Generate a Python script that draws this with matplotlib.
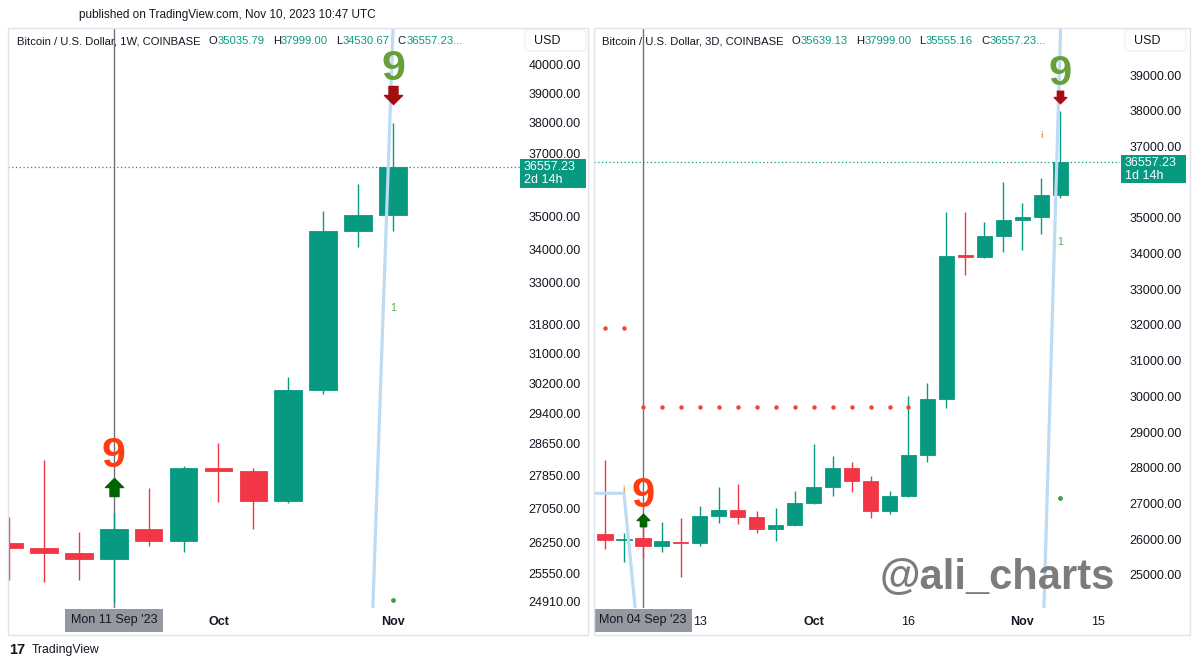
import matplotlib
matplotlib.use('Agg')
import matplotlib.pyplot as plt
import numpy as np
from matplotlib.path import Path
from matplotlib.patches import Rectangle, FancyBboxPatch
from matplotlib.transforms import blended_transform_factory
from matplotlib.ticker import NullLocator, NullFormatter

plt.rcParams['font.family'] = ['Liberation Sans', 'DejaVu Sans']

# ---------------- data ----------------
# Weekly (1W) candles, Aug 21 2023 .. Nov 6 2023
w_open  = [26238, 26128, 26006, 25861, 26563, 26281, 28029, 27963, 27220, 30024, 34548, 35035.79]
w_high  = [26845, 28229, 26494, 26939, 27540, 28079, 28654, 28029, 30380, 35168, 36007, 37999.00]
w_low   = [25392, 25349, 25392, 24901, 26167, 26030, 27202, 26563, 27178, 29919, 34052, 34530.67]
w_close = [26119, 26000, 25868, 26563, 26281, 28029, 27955, 27218, 30024, 34548, 35036, 36557.23]
w_ticks = [40000, 39000, 38000, 37000, 35000, 34000, 33000, 31800, 31000, 30200,
           29400, 28650, 27850, 27050, 26250, 25550, 24910]
w_xtick_pos = [6, 11]
w_xtick_lab = ['Oct', 'Nov']

# 3-day (3D) candles, Aug 29 2023 .. Nov 9 2023
d_open  = [26143, 25975, 26031, 25807, 25927, 25891, 26647, 26815, 26611, 26291, 26395, 27003, 27468,
           27983, 27636, 26787, 27216, 28356, 29925, 33950, 33900, 34490, 34938, 35036, 35639.13]
d_high  = [28216, 26179, 26339, 26479, 26599, 26927, 27468, 27543, 26787, 26863, 27356, 28655, 28328,
           28151, 27776, 27347, 30008, 30373, 35156, 35156, 34872, 35997, 35407, 36128, 37999.00]
d_low   = [25723, 25367, 25471, 25639, 24947, 25815, 26443, 26415, 26179, 25950, 26375, 26983, 27216,
           27319, 26583, 26703, 27188, 28156, 29685, 33409, 33867, 34053, 34097, 34544, 35555.16]
d_close = [25975, 26011, 25807, 25947, 25891, 26647, 26815, 26611, 26291, 26395, 27003, 27468, 27983,
           27636, 26787, 27216, 28356, 29925, 33922, 33900, 34490, 34938, 35025, 35636, 36557.23]
d_ticks = [39000, 38000, 37000, 35000, 34000, 33000, 32000, 31000, 30000,
           29000, 28000, 27000, 26000, 25000]
d_xtick_pos = [5, 11, 16, 22, 26]
d_xtick_lab = ['13', 'Oct', '16', 'Nov', '15']

last_close = 36557.23

# indicator marks (index, price)
w_red9 = (3, 28057); w_up_arrow = (3, 27563)
w_green9 = (11, 39464); w_down_arrow = (11, 38948)
w_one = (11, 32281); w_dot = (11, 24951)
w_trend_x = [10.42, 11.006]; w_trend_y = [24700, 41400]

d_red9 = (2, 26908); d_up_arrow = (2, 26527)
d_green9 = (24, 38731); d_down_arrow = (24, 38395)
d_one = (24, 34326); d_dot = (24, 27151)
d_info = [(1, 27403), (23, 37307)]
d_dots_hi_x = [0, 1]; d_dots_hi_y = 31900
d_dots_lo_x = list(range(2, 17)); d_dots_lo_y = 29710
d_trend1_x = [-1.0, 1.0, 1.62]; d_trend1_y = [27283, 27283, 23900]
d_trend2_x = [23.14, 24.02]; d_trend2_y = [24070, 40317]

GREEN = '#089981'
RED = '#F23645'
TXT = '#131722'

W, H = 1199, 667
fig = plt.figure(figsize=(W / 100, H / 100), dpi=100)
fig.patch.set_facecolor('white')

def fx(x): return x / W
def fy(y): return 1 - y / H

axL = fig.add_axes([fx(8), fy(608), (520 - 8) / W, (608 - 28) / H])
axR = fig.add_axes([fx(594), fy(608), (1120 - 594) / W, (608 - 28) / H])

up_path = Path([(0, 1), (1, 0), (0.5, 0), (0.5, -1), (-0.5, -1), (-0.5, 0), (-1, 0), (0, 1)],
               [Path.MOVETO] + [Path.LINETO] * 6 + [Path.CLOSEPOLY])
down_path = Path([(0, -1), (1, 0), (0.5, 0), (0.5, 1), (-0.5, 1), (-0.5, 0), (-1, 0), (0, -1)],
                 [Path.MOVETO] + [Path.LINETO] * 6 + [Path.CLOSEPOLY])

def draw_candles(ax, o, h, l, c, width):
    o, h, l, c = map(np.asarray, (o, h, l, c))
    x = np.arange(len(o))
    cols = np.where(c >= o, GREEN, RED)
    ax.vlines(x, l, h, colors=cols, lw=1.0, zorder=2)
    ax.bar(x, np.abs(c - o), bottom=np.minimum(o, c), width=width, color=cols,
           edgecolor=cols, linewidth=0.6, zorder=3)

def style_axis(ax, yt, xt_pos, xt_lab, pad):
    ax.set_yticks(yt)
    ax.set_yticklabels([f"{v:.2f}" for v in yt])
    ax.yaxis.set_minor_locator(NullLocator())
    ax.yaxis.set_minor_formatter(NullFormatter())
    ax.yaxis.tick_right()
    ax.tick_params(axis='y', length=0, pad=pad, labelsize=9, labelcolor=TXT)
    ax.set_xticks(xt_pos)
    ax.set_xticklabels(xt_lab)
    ax.tick_params(axis='x', length=0, pad=6, labelsize=9, labelcolor=TXT)
    for lab in ax.get_xticklabels():
        if not lab.get_text().isdigit():
            lab.set_fontweight('bold')
    for s in ax.spines.values():
        s.set_visible(False)
    ax.set_facecolor('white')

# ---------- left panel ----------
draw_candles(axL, w_open, w_high, w_low, w_close, 0.79)
axL.set_yscale('log')
axL.set_xlim(-0.03, 14.64)
axL.set_ylim(24775, 41317)
style_axis(axL, w_ticks, w_xtick_pos, w_xtick_lab, 6)
axL.axvline(3, color='#6f727c', lw=1.0, zorder=1)
axL.axhline(last_close, color=GREEN, lw=0.9, ls=(0, (1, 2)), zorder=1)
axL.plot(w_trend_x, w_trend_y, color='#bcdcf5', lw=2.3, zorder=4, solid_capstyle='butt')
axL.text(w_red9[0], w_red9[1], '9', color='#FF3B0F', fontsize=31, fontweight='bold',
         ha='center', va='baseline', zorder=6)
axL.plot([w_up_arrow[0]], [w_up_arrow[1]], marker=up_path, ms=13, color='#006400', ls='none', zorder=6)
axL.text(w_green9[0], w_green9[1], '9', color='#689F38', fontsize=31, fontweight='bold',
         ha='center', va='baseline', zorder=6)
axL.plot([w_down_arrow[0]], [w_down_arrow[1]], marker=down_path, ms=13, color='#A50E0E', ls='none', zorder=6)
axL.text(w_one[0], w_one[1], '1', color='#4CAF50', fontsize=7.5, ha='center', va='center', zorder=6)
axL.plot([w_dot[0]], [w_dot[1]], 'o', ms=2.5, color='#43A047', zorder=6)
trL = blended_transform_factory(axL.transData, axL.transAxes)
axL.text(3, -0.0215, "Mon 11 Sep '23", transform=trL, ha='center', va='center', fontsize=9,
         color=TXT, zorder=10, clip_on=False,
         bbox=dict(boxstyle='square,pad=0.45', fc='#9598a1', ec='none'))

# ---------- right panel ----------
draw_candles(axR, d_open, d_high, d_low, d_close, 0.8)
axR.set_xlim(-0.58, 27.15)
axR.set_ylim(24070, 40317)
style_axis(axR, d_ticks, d_xtick_pos, d_xtick_lab, 7)
axR.axvline(2, color='#6f727c', lw=1.0, zorder=1)
axR.axhline(last_close, color=GREEN, lw=0.9, ls=(0, (1, 2)), zorder=1)
axR.plot(d_dots_hi_x, [d_dots_hi_y] * len(d_dots_hi_x), 'o', ms=2.2, color='#F44336', ls='none', zorder=4)
axR.plot(d_dots_lo_x, [d_dots_lo_y] * len(d_dots_lo_x), 'o', ms=2.2, color='#F44336', ls='none', zorder=4)
axR.plot(d_trend1_x, d_trend1_y, color='#bcdcf5', lw=2.3, zorder=4)
axR.plot(d_trend2_x, d_trend2_y, color='#bcdcf5', lw=2.3, zorder=4)
axR.text(d_red9[0], d_red9[1], '9', color='#FF3B0F', fontsize=30, fontweight='bold',
         ha='center', va='baseline', zorder=6)
axR.plot([d_up_arrow[0]], [d_up_arrow[1]], marker=up_path, ms=9, color='#006400', ls='none', zorder=6)
axR.text(d_green9[0], d_green9[1], '9', color='#689F38', fontsize=30, fontweight='bold',
         ha='center', va='baseline', zorder=6)
axR.plot([d_down_arrow[0]], [d_down_arrow[1]], marker=down_path, ms=9, color='#A50E0E', ls='none', zorder=6)
axR.text(d_one[0], d_one[1], '1', color='#4CAF50', fontsize=7.5, ha='center', va='center', zorder=6)
axR.plot([d_dot[0]], [d_dot[1]], 'o', ms=2.5, color='#43A047', zorder=6)
for xi, yi in d_info:
    axR.text(xi, yi, 'i', color='#FF9800', fontsize=6.5, fontweight='bold', ha='center', va='center', zorder=6)
trR = blended_transform_factory(axR.transData, axR.transAxes)
axR.text(2, -0.0215, "Mon 04 Sep '23", transform=trR, ha='center', va='center', fontsize=9,
         color=TXT, zorder=10, clip_on=False,
         bbox=dict(boxstyle='square,pad=0.45', fc='#9598a1', ec='none'))

# ---------- chrome ----------
for (x0, x1) in [(8, 588), (594, 1190)]:
    fig.patches.append(Rectangle((fx(x0), fy(635)), (x1 - x0) / W, (635 - 28) / H,
                                 transform=fig.transFigure, fill=False, ec='#e0e3eb', lw=1.0))
for (x0, x1) in [(525, 586), (1125, 1186)]:
    fig.patches.append(FancyBboxPatch((fx(x0), fy(51)), (x1 - x0) / W, (51 - 30) / H,
                                      boxstyle='round,pad=0,rounding_size=0.004',
                                      transform=fig.transFigure, fc='white', ec='#eceef2', lw=0.8))
fig.text(fx(534), fy(41), 'USD', fontsize=9, color=TXT, ha='left', va='center')
fig.text(fx(1134), fy(41), 'USD', fontsize=9, color=TXT, ha='left', va='center')

fig.text(fx(79), fy(15), 'published on TradingView.com, Nov 10, 2023 10:47 UTC', fontsize=8.5,
         color=TXT, ha='left', va='center')

renderer = fig.canvas.get_renderer()

def pieces(x0, y0, items, size=8.1):
    x = x0
    for s, col, gap in items:
        t = fig.text(fx(x), fy(y0), s, fontsize=size, color=col, ha='left', va='center')
        x += t.get_window_extent(renderer).width + gap

pieces(17, 41, [("Bitcoin / U.S. Dollar, 1W, COINBASE", TXT, 8),
                ("O", TXT, 0.3), ("35035.79", GREEN, 8),
                ("H", TXT, 0.3), ("37999.00", GREEN, 8),
                ("L", TXT, 0.3), ("34530.67", GREEN, 8),
                ("C", TXT, 0.3), ("36557.23...", GREEN, 0)])
pieces(602, 41, [("Bitcoin / U.S. Dollar, 3D, COINBASE", TXT, 8),
                 ("O", TXT, 0.3), ("35639.13", GREEN, 8),
                 ("H", TXT, 0.3), ("37999.00", GREEN, 8),
                 ("L", TXT, 0.3), ("35555.16", GREEN, 8),
                 ("C", TXT, 0.3), ("36557.23...", GREEN, 0)])

# price label boxes
for ax, x0, x1, sub in [(axL, 520, 586, '2d 14h'), (axR, 1121, 1186, '1d 14h')]:
    ypix_disp = ax.transData.transform((0, last_close))[1]
    yline = H - ypix_disp
    fig.patches.append(Rectangle((fx(x0), fy(yline + 21)), (x1 - x0) / W, 28.5 / H,
                                 transform=fig.transFigure, fc=GREEN, ec='none', zorder=5))
    fig.text(fx(x0 + 4), fy(yline + 0.5), f"{last_close:.2f}", fontsize=9, color='white',
             ha='left', va='center', zorder=6)
    fig.text(fx(x0 + 4), fy(yline + 13.5), sub, fontsize=9, color='white',
             ha='left', va='center', zorder=6)

fig.text(fx(997), fy(578), '@ali_charts', fontsize=30, fontweight='bold', color='#7c7c7c',
         ha='center', va='center', zorder=3)

fig.text(fx(9), fy(650), '17', fontsize=10.5, fontweight='heavy', color=TXT, ha='left', va='center')
fig.text(fx(31.5), fy(650), 'TradingView', fontsize=8.8, color=TXT, ha='left', va='center')

fig.savefig('out.png', dpi=100, facecolor='white')
